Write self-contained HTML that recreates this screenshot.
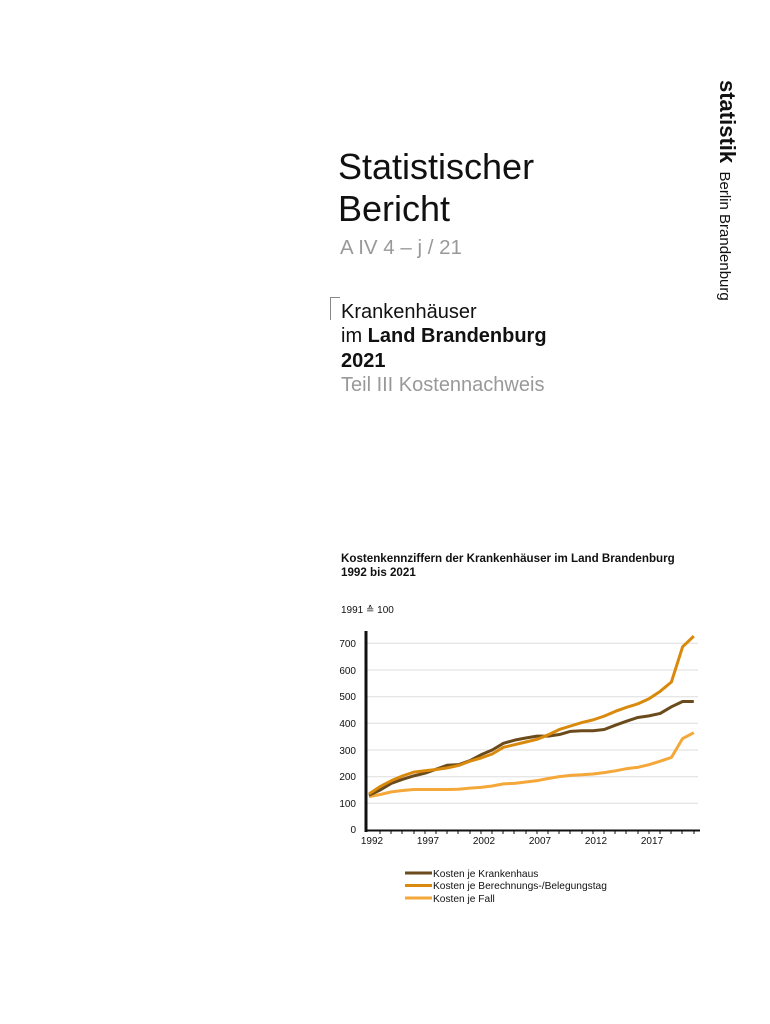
<!DOCTYPE html>
<html><head><meta charset="utf-8"><style>
html,body{margin:0;padding:0;background:#fff;}
body{width:770px;height:1024px;position:relative;overflow:hidden;font-family:"Liberation Sans",Arial,sans-serif;}
.a{position:absolute;white-space:nowrap;}
</style></head><body>
<div class="a" style="left:338px;top:146px;font-size:36px;line-height:42px;color:#111;">Statistischer<br>Bericht</div>
<div class="a" style="left:340px;top:236px;font-size:20.5px;color:#999;">A IV 4 – j / 21</div>
<div class="a" style="left:330px;top:297px;width:9px;height:22px;border-left:1.5px solid #888;border-top:1.5px solid #888;"></div>
<div class="a" style="left:341px;top:300px;font-size:20px;line-height:24.3px;color:#111;">Krankenhäuser<br>im <b>Land Brandenburg</b><br><b>2021</b><br><span style="color:#999">Teil III Kostennachweis</span></div>
<div class="a" style="left:739px;top:80px;transform-origin:0 0;transform:rotate(90deg);font-size:15px;color:#111;line-height:24px;"><b style="font-size:22px;">statistik</b>&nbsp;&nbsp;Berlin Brandenburg</div>
<div class="a" style="left:341px;top:552px;font-size:11.6px;font-weight:bold;line-height:14px;color:#111;">Kostenkennziffern der Krankenhäuser im Land Brandenburg<br>1992 bis 2021</div>
<div class="a" style="left:341px;top:605px;font-size:10px;color:#111;">1991 ≙ 100</div>
<svg class="a" style="left:0;top:0" width="770" height="1024">
<g stroke="#ddd" stroke-width="1">
<line x1="366" x2="698" y1="643.3" y2="643.3"/><line x1="366" x2="698" y1="670" y2="670"/><line x1="366" x2="698" y1="696.7" y2="696.7"/><line x1="366" x2="698" y1="723.3" y2="723.3"/><line x1="366" x2="698" y1="750" y2="750"/><line x1="366" x2="698" y1="776.7" y2="776.7"/><line x1="366" x2="698" y1="803.3" y2="803.3"/>
</g>
<g font-size="10" fill="#111" text-anchor="end">
<text x="356" y="647">700</text><text x="356" y="674">600</text><text x="356" y="700">500</text><text x="356" y="727">400</text><text x="356" y="754">300</text><text x="356" y="780">200</text><text x="356" y="807">100</text><text x="356" y="833">0</text>
</g>
<g font-size="10" fill="#111" text-anchor="middle">
<text x="372" y="844">1992</text><text x="428" y="844">1997</text><text x="484" y="844">2002</text><text x="540" y="844">2007</text><text x="596" y="844">2012</text><text x="652" y="844">2017</text>
</g>
<g transform="translate(369,830) scale(11.2,-0.26667)" fill="none" stroke-linejoin="round">
<polyline vector-effect="non-scaling-stroke" stroke="#f4a83a" stroke-width="3" points="0,125 1,133 2,143 3,148 4,152 5,152 6,152 7,152 8,153 9,157 10,160 11,165 12,173 13,175 14,180 15,185 16,193 17,200 18,205 19,207 20,210 21,215 22,222 23,230 24,235 25,245 26,258 27,272 28,343 29,365"/>
<polyline vector-effect="non-scaling-stroke" stroke="#6b4a1c" stroke-width="3" points="0,130 1,150 2,175 3,190 4,203 5,213 6,228 7,243 8,245 9,260 10,282 11,300 12,325 13,337 14,345 15,352 16,352 17,358 18,370 19,372 20,372 21,377 22,393 23,408 24,422 25,428 26,437 27,462 28,482 29,482"/>
<polyline vector-effect="non-scaling-stroke" stroke="#d98a0c" stroke-width="3" points="0,135 1,163 2,185 3,203 4,217 5,222 6,227 7,233 8,242 9,258 10,270 11,285 12,310 13,320 14,330 15,340 16,357 17,377 18,390 19,403 20,413 21,427 22,445 23,460 24,473 25,492 26,520 27,555 28,687 29,727"/>
</g>
<line x1="366" x2="366" y1="631" y2="832" stroke="#111" stroke-width="3"/>
<line x1="365" x2="700" y1="830.5" y2="830.5" stroke="#111" stroke-width="2"/>
<g stroke="#111" stroke-width="1">
<line x1="380" x2="380" y1="830" y2="834"/><line x1="391" x2="391" y1="830" y2="834"/><line x1="402" x2="402" y1="830" y2="834"/><line x1="414" x2="414" y1="830" y2="834"/><line x1="425" x2="425" y1="830" y2="834"/><line x1="436" x2="436" y1="830" y2="834"/><line x1="447" x2="447" y1="830" y2="834"/><line x1="458" x2="458" y1="830" y2="834"/><line x1="470" x2="470" y1="830" y2="834"/><line x1="481" x2="481" y1="830" y2="834"/><line x1="492" x2="492" y1="830" y2="834"/><line x1="503" x2="503" y1="830" y2="834"/><line x1="514" x2="514" y1="830" y2="834"/><line x1="526" x2="526" y1="830" y2="834"/><line x1="537" x2="537" y1="830" y2="834"/><line x1="548" x2="548" y1="830" y2="834"/><line x1="559" x2="559" y1="830" y2="834"/><line x1="570" x2="570" y1="830" y2="834"/><line x1="582" x2="582" y1="830" y2="834"/><line x1="593" x2="593" y1="830" y2="834"/><line x1="604" x2="604" y1="830" y2="834"/><line x1="615" x2="615" y1="830" y2="834"/><line x1="626" x2="626" y1="830" y2="834"/><line x1="638" x2="638" y1="830" y2="834"/><line x1="649" x2="649" y1="830" y2="834"/><line x1="660" x2="660" y1="830" y2="834"/><line x1="671" x2="671" y1="830" y2="834"/><line x1="682" x2="682" y1="830" y2="834"/><line x1="694" x2="694" y1="830" y2="834"/>
</g>
<line x1="405" x2="432" y1="873" y2="873" stroke="#6b4a1c" stroke-width="3"/>
<line x1="405" x2="432" y1="885.5" y2="885.5" stroke="#d98a0c" stroke-width="3"/>
<line x1="405" x2="432" y1="898" y2="898" stroke="#f4a83a" stroke-width="3"/>
<g font-size="10.2" fill="#111">
<text x="433" y="877">Kosten je Krankenhaus</text>
<text x="433" y="889">Kosten je Berechnungs-/Belegungstag</text>
<text x="433" y="902">Kosten je Fall</text>
</g>
</svg>
</body></html>
